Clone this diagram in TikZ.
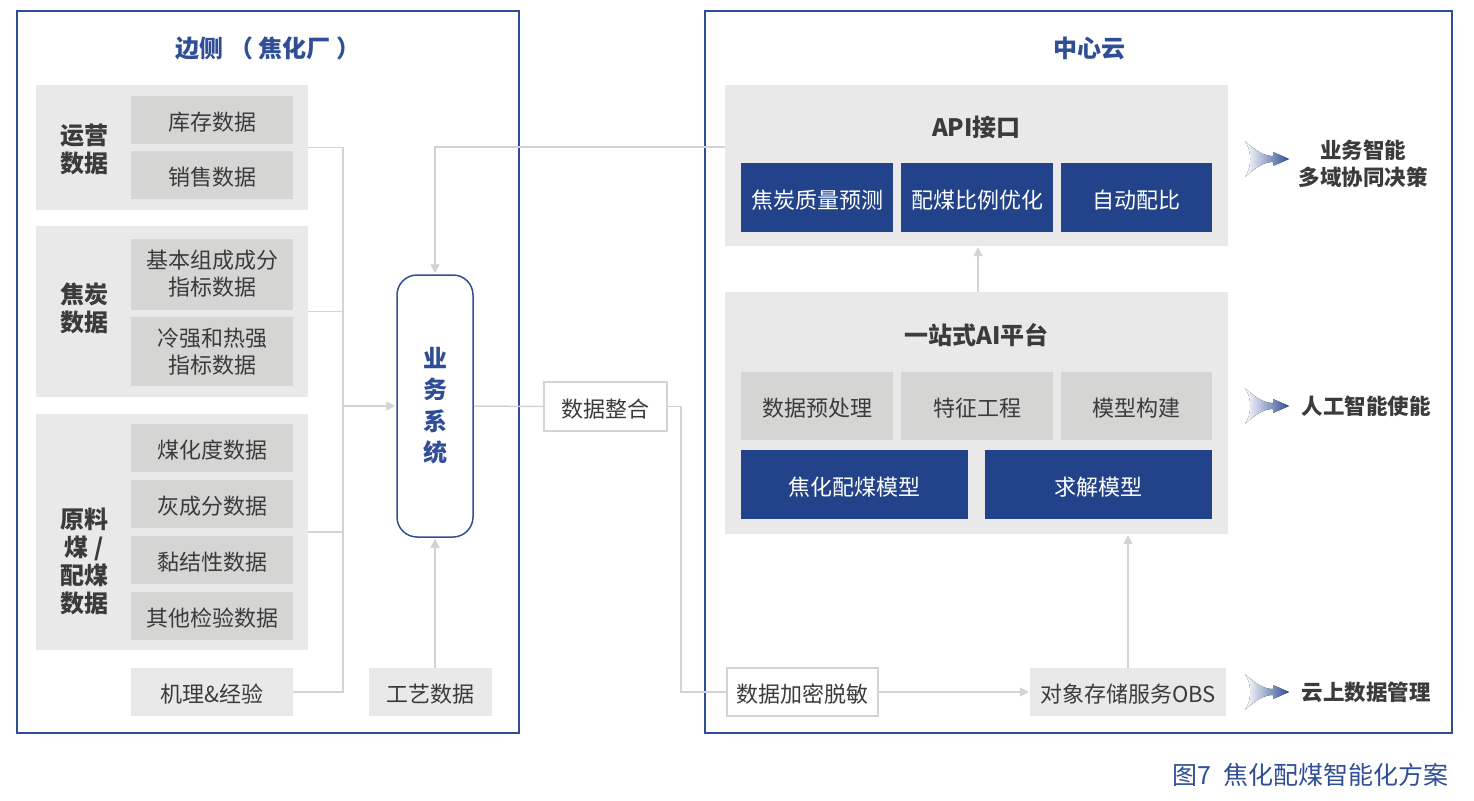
\documentclass[tikz,border=0pt]{standalone}
\usepackage{fontspec}
\setmainfont{Noto Sans CJK SC}
\usetikzlibrary{arrows.meta}
\definecolor{pblue}{HTML}{2F4E96}
\definecolor{bfill}{HTML}{22438A}
\definecolor{gfill}{HTML}{E9E9E9}
\definecolor{ifill}{HTML}{D5D5D4}
\definecolor{cline}{HTML}{D3D3D3}
\definecolor{tdark}{HTML}{3B3B3B}
\tikzset{
  panel/.style={draw=pblue, line width=1.5pt},
  grp/.style={fill=gfill, draw=none, inner sep=0pt},
  item/.style={fill=ifill, draw=none, inner sep=0pt, align=center, text=tdark, font=\fontsize{22}{27}\selectfont},
  one/.style={text height=23.3pt, text depth=1.5pt},
  lbl/.style={align=center, text=tdark, font=\fontsize{24}{28}\selectfont\bfseries},
  bluebox/.style={fill=bfill, draw=none, inner sep=0pt, text=white, font=\fontsize{22}{27}\selectfont, one},
  wbox/.style={fill=white, draw=cline, line width=1.5pt, inner sep=0pt, text=tdark, font=\fontsize{22}{27}\selectfont, one},
  title/.style={text=pblue, font=\fontsize{24}{28}\selectfont\bfseries},
  sub/.style={text=tdark, font=\fontsize{24}{28}\selectfont\bfseries},
  conn/.style={draw=cline, line width=1.5pt},
  arr/.style={conn, -{Triangle[length=9pt,width=9pt]}, shorten >=1pt},
  side/.style={text=tdark, font=\fontsize{21.5}{27}\selectfont\bfseries, align=center},
}
\newcommand{\swoosh}[1]{%
  \fill[left color=white, right color=pblue] (1245,#1-18) .. controls (1256,#1-8) and (1264,#1-3) .. (1273,#1-3) -- (1273,#1-7) -- (1289,#1) -- (1273,#1+7) -- (1273,#1+3) .. controls (1264,#1+3) and (1256,#1+8) .. (1245,#1+18) .. controls (1252,#1+8) and (1252,#1-8) .. cycle;}
\begin{document}
\begin{tikzpicture}[x=1pt,y=-1pt]
\useasboundingbox (0,0) rectangle (1474,800);
% panels
\draw[panel] (17,11) rectangle (519,733);
\draw[panel] (705,11) rectangle (1452,733);
\node[title] (tl) at (268,48) {边侧 （ 焦化厂 ）};
\node[title] (tr) at (1089,48) {中心云};
% left groups
\node[grp, minimum width=272, minimum height=125] (g1) at (172,147.5) {};
\node[grp, minimum width=272, minimum height=171] (g2) at (172,311.5) {};
\node[grp, minimum width=272, minimum height=236] (g3) at (172,532) {};
\node[lbl] (l1) at (84,149) {运营\\数据};
\node[lbl] (l2) at (84,308) {焦炭\\数据};
\node[lbl] (l3) at (84,561) {原料\\煤 /\\配煤\\数据};
\node[item, one, minimum width=162, minimum height=48] (i1) at (212,119.5) {库存数据};
\node[item, one, minimum width=162, minimum height=48] (i2) at (212,175) {销售数据};
\node[item, minimum width=162, minimum height=71] (i3) at (212,274) {基本组成成分\\指标数据};
\node[item, minimum width=162, minimum height=69] (i4) at (212,351.5) {冷强和热强\\指标数据};
\node[item, one, minimum width=162, minimum height=48] (i5) at (212,448) {煤化度数据};
\node[item, one, minimum width=162, minimum height=48] (i6) at (212,504) {灰成分数据};
\node[item, one, minimum width=162, minimum height=48] (i7) at (212,560) {黏结性数据};
\node[item, one, minimum width=162, minimum height=48] (i8) at (212,616) {其他检验数据};
\node[item, one, fill=gfill, minimum width=162, minimum height=48] (jl) at (212,692) {机理\&经验};
\node[item, one, fill=gfill, minimum width=123, minimum height=48] (gy) at (430.5,692) {工艺数据};
% business system
\node[draw=pblue, line width=1.5pt, rounded corners=20pt, minimum width=76, minimum height=262, inner sep=0pt] (ys) at (435,406) {};
\node[text=pblue, font=\fontsize{24}{31.3}\selectfont\bfseries, align=center] (yst) at (435,405.5) {业\\务\\系\\统};
% bus connectors
\coordinate (busT) at (343,147.5);
\coordinate (busB) at (343,692);
\draw[conn] (g1.east) -- (busT) -- (busB) -- (jl.east);
\draw[conn] (g2.east) -- (g2.east -| busT);
\draw[conn] (g3.east) -- (g3.east -| busT);
\draw[arr] (busT |- ys.west) -- (ys.west);
\draw[arr] (ys.south |- gy.north) -- (ys.south);
% right side
\node[grp, fill=gfill, minimum width=503, minimum height=161] (api) at (976.5,165.5) {};
\node[sub] (apit) at (976.5,127) {API接口};
\node[bluebox, minimum width=152, minimum height=69] (b1) at (817,197.5) {焦炭质量预测};
\node[bluebox, minimum width=152, minimum height=69] (b2) at (977,197.5) {配煤比例优化};
\node[bluebox, minimum width=151, minimum height=69] (b3) at (1136.5,197.5) {自动配比};
\node[grp, fill=gfill, minimum width=503, minimum height=242] (ai) at (976.5,413) {};
\node[sub] (ait) at (976.5,335) {一站式AI平台};
\node[item, one, fill=ifill, minimum width=152, minimum height=68] (c1) at (817,406) {数据预处理};
\node[item, one, fill=ifill, minimum width=152, minimum height=68] (c2) at (977,406) {特征工程};
\node[item, one, fill=ifill, minimum width=151, minimum height=68] (c3) at (1136.5,406) {模型构建};
\node[bluebox, minimum width=227, minimum height=69] (m1) at (854.5,484.5) {焦化配煤模型};
\node[bluebox, minimum width=227, minimum height=69] (m2) at (1098.5,484.5) {求解模型};
\node[wbox, minimum width=123, minimum height=49] (sj) at (605.5,406.5) {数据整合};
\node[wbox, minimum width=151, minimum height=48] (jm) at (802.5,692) {数据加密脱敏};
\node[item, one, fill=gfill, minimum width=196, minimum height=48] (obs) at (1128,692) {对象存储服务OBS};
% connectors
\draw[arr] ([yshift=-62pt]api.north west) -| (ys.north);
\draw[conn] (ys.east) -- (sj.west);
\draw[conn] (sj.east) -- (681,406.5) |- (jm.west);
\draw[arr] (jm.east) -- (obs.west);
\draw[arr] (obs.north) -- (obs.north |- ai.south);
\draw[arr] (ai.north -| 978,0) -- (api.south -| 978,0);
% side labels
\swoosh{159}
\swoosh{406}
\swoosh{692}
\node[side] (s1) at (1363,164) {业务智能\\多域协同决策};
\node[side, anchor=west] (s2) at (1298,406) {人工智能使能};
\node[side, anchor=west] (s3) at (1298,692) {云上数据管理};
\node[text=pblue, font=\fontsize{25}{29}\selectfont, anchor=east] (cap) at (1452,775) {图7\hspace{0.5em}焦化配煤智能化方案};
\end{tikzpicture}
\end{document}
